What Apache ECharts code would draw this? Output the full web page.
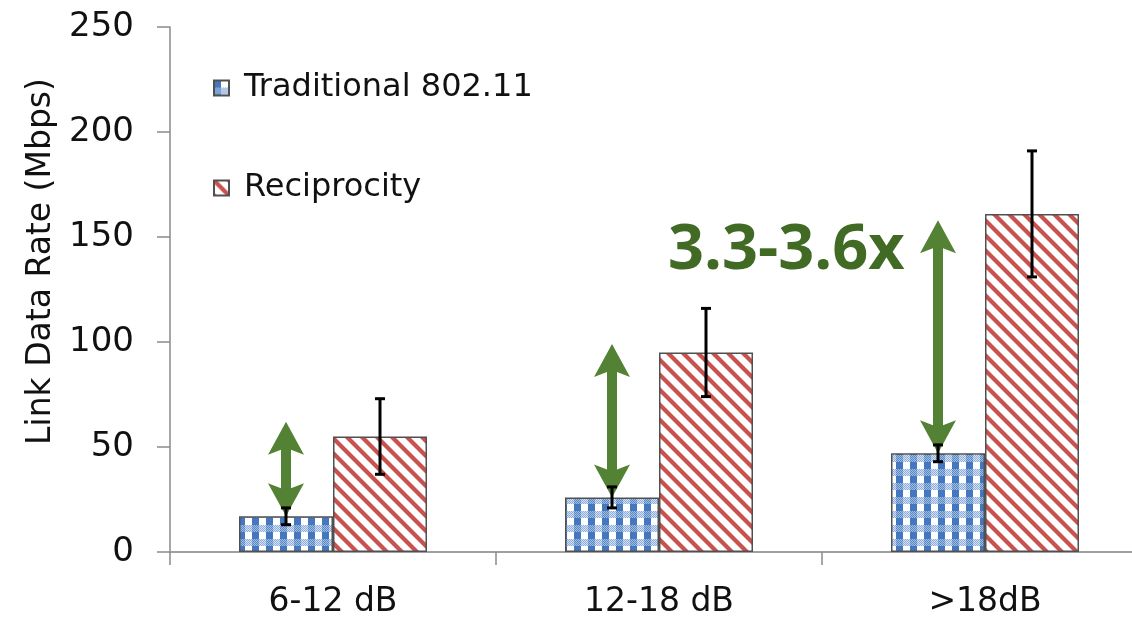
<!DOCTYPE html>
<html>
<head>
<meta charset="utf-8">
<script src="https://cdn.jsdelivr.net/npm/echarts@6/dist/echarts.min.js"></script>
<style>
html,body{margin:0;padding:0;background:#fff;overflow:hidden;width:1132px;height:621px;}
#main{width:1148px;height:621px;}
</style>
</head>
<body>
<div id="main"></div>
<script>
// ---- data ----
var categories = ['6-12 dB', '12-18 dB', '>18dB'];
var traditional = [17, 26, 47];
var traditionalErr = [4, 5, 4];
var reciprocity = [55, 95, 161];
var reciprocityErr = [18, 21, 30];
var arrowTop = [62, 99, 158];
var yTicks = [0, 50, 100, 150, 200, 250];
var gainLabel = '3.3-3.6x';

// ---- patterns ----
function bluePattern() {
  var s = 14, c = document.createElement('canvas');
  c.width = s; c.height = s;
  var g = c.getContext('2d');
  g.fillStyle = '#ffffff'; g.fillRect(0, 0, s, s);
  for (var y = 7; y < 14; y++) {
    for (var x = 0; x < 14; x++) {
      var dark = x < 7;
      if ((x + y) % 2 === 0) g.fillStyle = dark ? '#5b89c4' : '#8fb0dc';
      else g.fillStyle = dark ? '#9fbbe2' : '#d3e0f2';
      g.fillRect(x, y, 1, 1);
    }
  }
  g.fillStyle = '#4477bd'; g.fillRect(0, 0, 7, 7);
  return c;
}
function redPattern() {
  var s = 15, c = document.createElement('canvas');
  c.width = s; c.height = s;
  var g = c.getContext('2d');
  g.fillStyle = '#ffffff'; g.fillRect(0, 0, s, s);
  g.strokeStyle = '#c9524f'; g.lineWidth = 4.2;
  for (var k = -1; k <= 1; k++) {
    g.beginPath();
    g.moveTo(k * s - 2, -2); g.lineTo(k * s + s + 2, s + 2);
    g.stroke();
  }
  return c;
}
var blueFill = { image: bluePattern(), repeat: 'repeat' };
var redFill = { image: redPattern(), repeat: 'repeat' };

var BAR_PX = 94;
var errData = [];
traditional.forEach(function (v, i) { errData.push([i, v, traditionalErr[i], -1]); });
reciprocity.forEach(function (v, i) { errData.push([i, v, reciprocityErr[i], 1]); });
var arrowData = traditional.map(function (v, i) { return [i, v, arrowTop[i]]; });

var FONT = 'DejaVu Sans';
var chart = echarts.init(document.getElementById('main'));
chart.setOption({
  animation: false,
  backgroundColor: '#ffffff',
  grid: { left: 170, right: 0, top: 27, bottom: 69 },
  legend: {
    orient: 'vertical', left: 213, top: 70, padding: 0,
    icon: 'rect',
    itemWidth: 15, itemHeight: 15, itemGap: 64,
    data: ['Traditional 802.11', 'Reciprocity'],
    textStyle: { fontFamily: FONT, fontSize: 32, color: '#111', lineHeight: 36, padding: [0, 0, 0, 10] }
  },
  xAxis: {
    type: 'category', data: categories,
    axisLine: { lineStyle: { color: '#a0a0a0', width: 2 } },
    axisTick: { show: true, length: 13, lineStyle: { color: '#8a8a8a', width: 1.5 } },
    axisLabel: { fontFamily: FONT, fontSize: 33, color: '#111', margin: 34 }
  },
  yAxis: {
    type: 'value', min: 0, max: 250, interval: 50,
    name: 'Link Data Rate (Mbps)', nameLocation: 'middle', nameGap: 105, nameRotate: 90,
    nameTextStyle: { fontFamily: FONT, fontSize: 33, color: '#111', padding: [0, 0, 0, 56] },
    axisLine: { show: true, lineStyle: { color: '#8a8a8a', width: 1.5 } },
    axisTick: { show: true, length: 13, lineStyle: { color: '#8a8a8a', width: 1.5 } },
    axisLabel: { fontFamily: FONT, fontSize: 34, color: '#111', margin: 36,
      formatter: function (v) { return yTicks.indexOf(v) >= 0 ? String(v) : ''; } },
    splitLine: { show: false }
  },
  series: [
    { name: 'Traditional 802.11', type: 'bar', data: traditional, barWidth: BAR_PX, barGap: '0%',
      itemStyle: { color: blueFill, borderColor: '#505050', borderWidth: 1.5 } },
    { name: 'Reciprocity', type: 'bar', data: reciprocity, barWidth: BAR_PX, barGap: '0%',
      itemStyle: { color: redFill, borderColor: '#505050', borderWidth: 1.5 } },
    { type: 'custom', z: 5, data: arrowData, silent: true,
      renderItem: function (params, api) {
        var i = api.value(0);
        var bot = api.coord([i, api.value(1)]);
        var top = api.coord([i, api.value(2)]);
        var x = bot[0] - BAR_PX / 2;
        var yb = bot[1], yt = top[1];
        var sw = 5, hw = 18, hl = 33, notch = 5;
        var pts = [
          [x, yt], [x + hw, yt + hl], [x + sw, yt + hl - notch],
          [x + sw, yb - hl + notch], [x + hw, yb - hl], [x, yb],
          [x - hw, yb - hl], [x - sw, yb - hl + notch], [x - sw, yt + hl - notch],
          [x - hw, yt + hl]
        ];
        return { type: 'polygon', shape: { points: pts }, style: { fill: '#548235' } };
      } },
    { type: 'custom', z: 6, data: errData, silent: true,
      renderItem: function (params, api) {
        var i = api.value(0), v = api.value(1), e = api.value(2), side = api.value(3);
        var hi = api.coord([i, v + e]);
        var lo = api.coord([i, v - e]);
        var x = hi[0] + side * BAR_PX / 2;
        var cw = 5;
        var st = { stroke: '#000', lineWidth: 3 };
        return { type: 'group', children: [
          { type: 'line', shape: { x1: x, y1: hi[1], x2: x, y2: lo[1] }, style: st },
          { type: 'line', shape: { x1: x - cw, y1: hi[1], x2: x + cw, y2: hi[1] }, style: st },
          { type: 'line', shape: { x1: x - cw, y1: lo[1], x2: x + cw, y2: lo[1] }, style: st }
        ] };
      } }
  ],
  graphic: [
    { type: 'text', left: 668, top: 220,
      style: { text: gainLabel, fontFamily: 'Open Sans', fontWeight: 'bold', fontSize: 63, fill: '#416b24' } }
  ]
});
</script>
</body>
</html>
